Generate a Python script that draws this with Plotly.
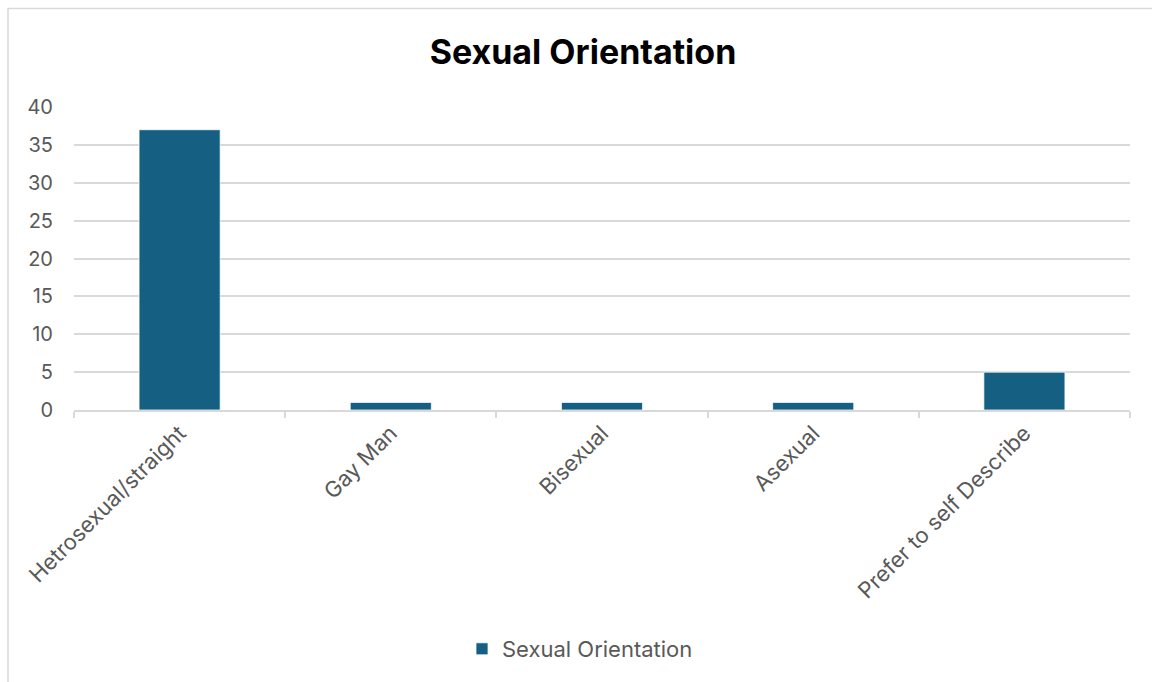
import plotly.graph_objects as go

categories = ["Hetrosexual/straight", "Gay Man", "Bisexual", "Asexual", "Prefer to self Describe"]
values = [37, 1, 1, 1, 5]
series_name = "Sexual Orientation"
y_ticks = [0, 5, 10, 15, 20, 25, 30, 35, 40]

W, H = 1152, 682
L, R, T, B = 74, 22, 107, 272
pw, ph = W - L - R, H - T - B

def px_x(px):
    return (px - L) / pw

def px_y(py):
    return (H - B - py) / ph

FONT = "Inter"
GREY = "#595959"
FS = 20
FSX = 22

fig = go.Figure()
fig.add_trace(go.Bar(
    x=categories, y=values, name=series_name,
    marker=dict(color="#156082", line=dict(color="#ffffff", width=0.75)),
    text=[str(v) for v in values], textposition="outside",
    textfont=dict(color="#ffffff", size=FS, family=FONT),
    cliponaxis=False, showlegend=True,
))

fig.update_layout(
    width=W, height=H,
    margin=dict(l=L, r=R, t=T, b=B, autoexpand=False),
    paper_bgcolor="#ffffff", plot_bgcolor="#ffffff",
    bargap=0.616,
    font=dict(family=FONT, color=GREY, size=FS),
    title=dict(text="<b>Sexual Orientation</b>", x=583 / W, xref="container",
               xanchor="center", y=1 - 52 / H, yref="container", yanchor="middle",
               font=dict(size=34, color="#000000", family=FONT)),
    xaxis=dict(
        type="category", tickangle=-45, showgrid=False,
        showline=True, linecolor="#d9d9d9", linewidth=1.5,
        ticks="outside", tickson="boundaries", ticklen=6, tickcolor="#d9d9d9", tickwidth=1.5,
        tickfont=dict(size=FSX, color=GREY, family=FONT),
    ),
    yaxis=dict(
        range=[0, 40], tickvals=y_ticks, showgrid=True, gridcolor="#d9d9d9", gridwidth=1.5,
        zeroline=False, showline=False, ticks="", ticklabelstandoff=20,
        tickfont=dict(size=FS, color=GREY, family=FONT),
    ),
    legend=dict(orientation="h", x=px_x(580), xanchor="center", y=px_y(649), yanchor="middle",
                font=dict(size=FSX, color=GREY, family=FONT), itemwidth=30),
    shapes=[dict(type="rect", xref="paper", yref="paper",
                 x0=px_x(8), x1=px_x(1160), y0=px_y(8.5), y1=px_y(690),
                 line=dict(color="#d9d9d9", width=1.5), fillcolor="rgba(0,0,0,0)", layer="below")],
)

fig.write_html("out.html")
